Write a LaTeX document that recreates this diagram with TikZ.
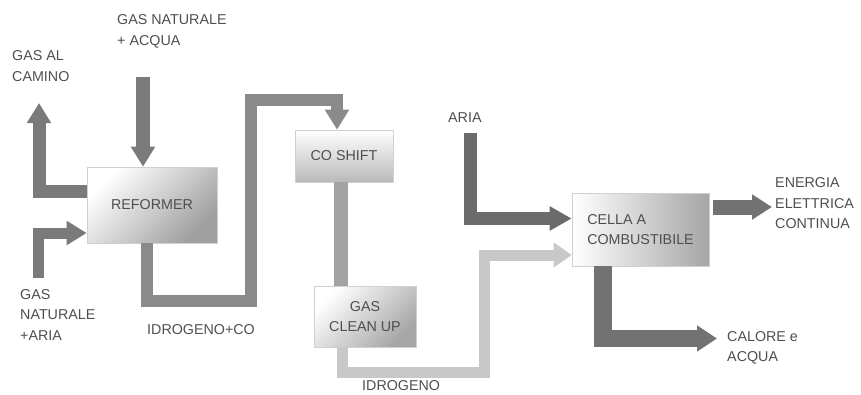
\documentclass[tikz,border=0pt]{standalone}
\usepackage{fontspec}
\setmainfont{Liberation Sans}
\usetikzlibrary{arrows.meta,calc}
\definecolor{txt}{HTML}{4E4E4E}
\definecolor{cA}{HTML}{7A7A7A}
\definecolor{cB}{HTML}{8A8A8A}
\definecolor{cC}{HTML}{A3A3A3}
\definecolor{cD}{HTML}{C8C8C8}
\definecolor{cE}{HTML}{6B6B6B}
\definecolor{cF}{HTML}{727272}
\definecolor{edge}{HTML}{D0D0D0}
\begin{document}
\begin{tikzpicture}[x=1pt,y=-1pt,
  lbl/.style={inner sep=0pt,anchor=west,align=left,text=txt,font=\fontsize{14.3}{20.5}\selectfont},
  box/.style={draw=edge,line width=0.6pt,inner sep=0pt,text=txt,align=center,
    font=\fontsize{14.3}{20.5}\selectfont},
  band/.style={line width=#1,line join=miter,line cap=butt},
  tip/.style 2 args={-{Triangle[width=#1pt,length=#2pt]}}
]
\useasboundingbox (0,0) rectangle (861,394);
% boxes
\node[box,minimum width=130pt,minimum height=76pt,
  top color=white,middle color=gray!12,bottom color=gray!75,shading angle=45] (ref) at (152,205) {REFORMER};
\node[box,minimum width=98pt,minimum height=52pt,
  top color=white,middle color=gray!10,bottom color=gray!55] (cos) at (344,156) {CO SHIFT};
\node[box,minimum width=102pt,minimum height=61pt,
  top color=white,middle color=gray!12,bottom color=gray!70,shading angle=45] (gcu) at (365,316.5) {GAS\\CLEAN UP};
\node[box,minimum width=137pt,minimum height=73pt,align=left,
  left color=white,middle color=gray!15,right color=gray!70] (cel) at (640.5,229.5) {CELLA A\\COMBUSTIBILE};
% labels
\node[lbl] (lgna) at (117,31.5) {GAS NATURALE\\+ ACQUA};
\node[lbl] (lcam) at (12,66) {GAS AL\\CAMINO};
\node[lbl] (lgnr) at (20,314.5) {GAS\\NATURALE\\+ARIA};
\node[lbl] (lhco) at (147,330) {IDROGENO+CO};
\node[lbl] (lh) at (362,386) {IDROGENO};
\node[lbl] (lar) at (448,118) {ARIA};
\node[lbl] (len) at (775,203.5) {ENERGIA\\ELETTRICA\\CONTINUA};
\node[lbl] (lca) at (727,348) {CALORE e\\ACQUA};
% coordinates
\coordinate (camtop) at (39,103);
\coordinate (acqtop) at (143,77);
\coordinate (ariabot) at (38,278);
\coordinate (ariatop) at (470.5,133);
\coordinate (entip) at (772,207);
\coordinate (catip) at (717,338.5);
\coordinate (csout) at ($(cos.south)+(-3.5,0)$);
% gas al camino
\draw[cA,band=13pt,tip={23}{20}] ($(ref.west)+(0,-14)$) -- (39,191) -- (camtop);
% gas naturale + acqua
\draw[cA,band=14pt,tip={23}{20}] (acqtop) -- (acqtop|-ref.north);
% gas naturale + aria
\draw[cA,band=11pt,tip={23}{20}] (ariabot) -- (38,233) -- ($(ref.west)+(0,28)$);
% idrogeno + co
\draw[cB,band=12pt,tip={23}{20}] ($(ref.south)+(-5.5,0)$) -- (146.5,301) -- (250.5,301)
  -- (250.5,99.5) -- (337,99.5) -- ($(cos.north)+(-7,0)$);
% co shift -> gas clean up
\draw[cC,band=14pt] (csout) -- (csout|-gcu.north);
% gas clean up -> cella
\draw[cD,band=11pt,tip={24}{18}] ($(gcu.south)+(-23,0)$) -- (342,372) -- (484,372) -- (484,255)
  -- ($(cel.west)+(0,25.5)$);
% aria -> cella
\draw[cE,band=13pt,tip={23}{22}] (ariatop) -- (470.5,218.5) -- ($(cel.west)+(0,-11)$);
% cella -> energia
\draw[cF,band=15pt,tip={24}{20}] ($(cel.east)+(4,-22.5)$) -- (entip);
% cella -> calore
\draw[cF,band=17.5pt,tip={25}{20}] ($(cel.south)+(-37.5,0)$) -- (603,338.5) -- (catip);
\end{tikzpicture}
\end{document}
